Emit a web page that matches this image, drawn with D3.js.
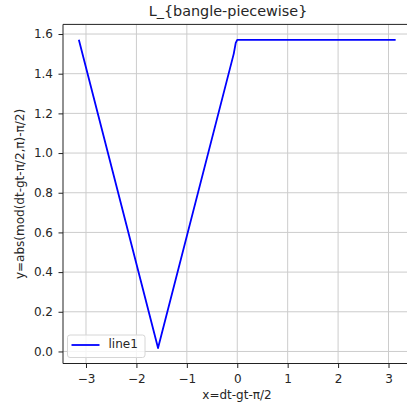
<!DOCTYPE html>
<html>
<head>
<meta charset="utf-8">
<script src="https://cdn.jsdelivr.net/npm/d3@7"></script>
<style>
  html, body { margin: 0; padding: 0; background: #fff; }
  svg { display: block; }
  text { font-family: "DejaVu Sans", sans-serif; fill: #262626; }
</style>
</head>
<body>
<svg id="chart" width="407" height="409"></svg>
<script>
// Piecewise curve: y = |mod(x, π) - π/2| sampled over [-π, π]
const xValues = [-3.1416, -1.571, -0.07, -0.03, 0.0, 3.1416];
const yValues = [1.5708, 0.017, 1.50, 1.555, 1.5708, 1.5708];
const xTicks = [-3, -2, -1, 0, 1, 2, 3];
const yTicks = [0.0, 0.2, 0.4, 0.6, 0.8, 1.0, 1.2, 1.4, 1.6];
const seriesName = "line1";
const titleText = "L_{bangle-piecewise}";
const xLabel = "x=dt-gt-π/2";
const yLabel = "y=abs(mod(dt-gt-π/2,π)-π/2)";

const points = xValues.map((x, i) => ({ x, y: yValues[i] }));

const plotL = 63, plotR = 411.5, plotT = 24.4, plotB = 363.5;
const svg = d3.select("#chart");

const x = d3.scaleLinear().domain([-3.456, 3.456]).range([plotL, plotR]);
const y = d3.scaleLinear().domain([-0.0607, 1.6485]).range([plotB, plotT]);

// grid
const grid = svg.append("g").attr("stroke", "#cccccc").attr("stroke-width", 1);
xTicks.forEach(t => grid.append("line")
  .attr("x1", x(t)).attr("x2", x(t)).attr("y1", plotT).attr("y2", plotB));
yTicks.forEach(t => grid.append("line")
  .attr("x1", plotL).attr("x2", plotR).attr("y1", y(t)).attr("y2", y(t)));

// data line
svg.append("path")
  .datum(points)
  .attr("fill", "none")
  .attr("stroke", "#0000ff")
  .attr("stroke-width", 1.8)
  .attr("stroke-linejoin", "round")
  .attr("d", d3.line().x(d => x(d.x)).y(d => y(d.y)));

// axes
const xAxis = svg.append("g").attr("transform", `translate(0,${plotB})`)
  .call(d3.axisBottom(x).tickValues(xTicks).tickSize(4.5).tickPadding(6.5)
    .tickFormat(d => d < 0 ? "\u2212" + Math.abs(d) : d));
const yAxis = svg.append("g").attr("transform", `translate(${plotL},0)`)
  .call(d3.axisLeft(y).tickValues(yTicks).tickSize(4.5).tickPadding(5.5)
    .tickFormat(d3.format(".1f")));
[xAxis, yAxis].forEach(a => {
  a.select(".domain").remove();
  a.selectAll(".tick line").attr("stroke", "#222").attr("stroke-width", 1);
  a.selectAll(".tick text").attr("font-size", 12)
    .attr("font-family", "DejaVu Sans, sans-serif").attr("fill", "#262626");
});

// spines
const spines = svg.append("g").attr("stroke", "#222").attr("stroke-width", 1).attr("fill", "none");
spines.append("line").attr("x1", plotL).attr("x2", plotR).attr("y1", plotT).attr("y2", plotT);
spines.append("line").attr("x1", plotL).attr("x2", plotR).attr("y1", plotB).attr("y2", plotB);
spines.append("line").attr("x1", plotL).attr("x2", plotL).attr("y1", plotT).attr("y2", plotB);
spines.append("line").attr("x1", plotR).attr("x2", plotR).attr("y1", plotT).attr("y2", plotB);

// title and axis labels
svg.append("text").attr("x", 228).attr("y", 15.5).attr("text-anchor", "middle")
  .attr("font-size", 14.4).text(titleText);
svg.append("text").attr("x", 237).attr("y", 398.5).attr("text-anchor", "middle")
  .attr("font-size", 12).text(xLabel);
svg.append("text").attr("transform", `translate(24.3,${(plotT + plotB) / 2}) rotate(-90)`)
  .attr("text-anchor", "middle").attr("font-size", 12).text(yLabel);

// legend
const lg = svg.append("g");
lg.append("rect").attr("x", 67.5).attr("y", 335).attr("width", 77.5).attr("height", 22.5)
  .attr("rx", 2.5).attr("fill", "#fff").attr("fill-opacity", 0.8)
  .attr("stroke", "#d6d6d6").attr("stroke-width", 1);
lg.append("line").attr("x1", 71.5).attr("x2", 99.5).attr("y1", 345).attr("y2", 345)
  .attr("stroke", "#0000ff").attr("stroke-width", 1.8);
lg.append("text").attr("x", 108.5).attr("y", 347.7).attr("font-size", 12).text(seriesName);
</script>
</body>
</html>
